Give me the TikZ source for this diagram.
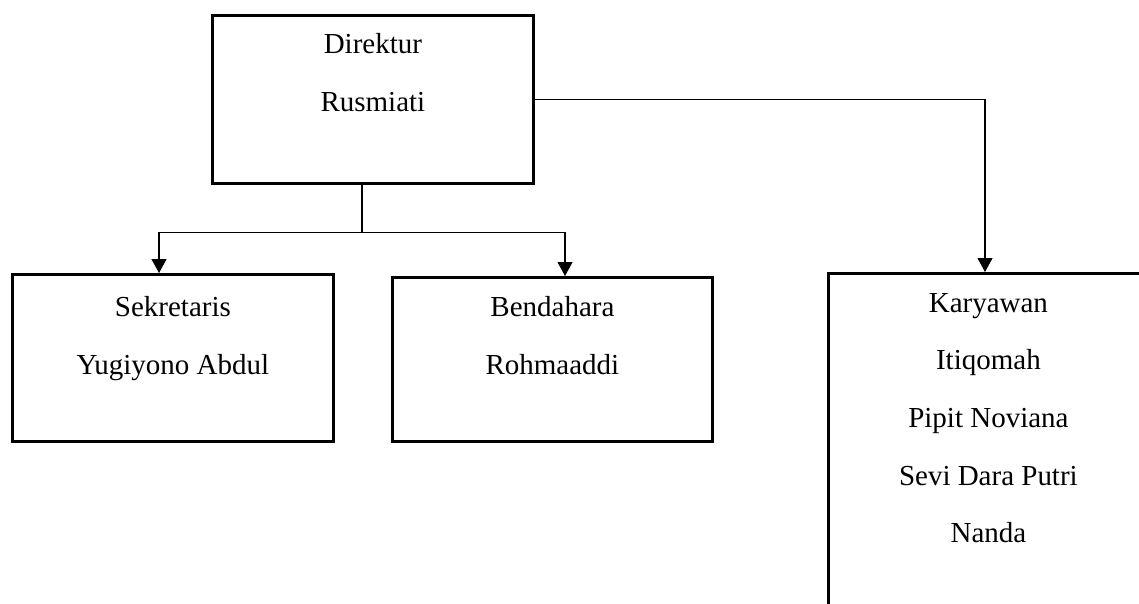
\documentclass[tikz,border=0pt]{standalone}
\usepackage{fontspec}
\setmainfont{Liberation Serif}
\usepackage{tikz}
\usetikzlibrary{arrows.meta,calc}

\begin{document}
\begin{tikzpicture}[x=0.02cm, y=-0.02cm, >={Triangle[length=0.28cm,width=0.3cm]},
    box/.style={draw, line width=1.6pt, rectangle, anchor=north west, inner sep=0pt},
    persontxt/.style={anchor=north, inner sep=0pt, align=center, font=\fontsize{16.5}{32.8}\selectfont},
    link/.style={line width=0.6pt}]
    \useasboundingbox (0,0) rectangle (1139,603);
    % Boxes
    \node[box, minimum width=321*0.02cm, minimum height=168*0.02cm] (dirbox) at (211,14) {};
    \node[box, minimum width=321*0.02cm, minimum height=167*0.02cm] (sekbox) at (11,273) {};
    \node[box, minimum width=320*0.02cm, minimum height=164*0.02cm] (benbox) at (391,276) {};
    \node[box, minimum width=320*0.02cm, minimum height=380*0.02cm] (karbox) at (827,272) {};
    % Names
    \node[persontxt] (dirtxt) at ($(dirbox.north)+(0,19)$) {Direktur\\Rusmiati};
    \node[persontxt] (sektxt) at ($(sekbox.north)+(0,23)$) {Sekretaris\\Yugiyono Abdul};
    \node[persontxt] (bentxt) at ($(benbox.north)+(0,20)$) {Bendahara\\Rohmaaddi};
    \node[persontxt] (kartxt) at ($(karbox.north)+(0,21)$) {Karyawan\\Itiqomah\\Pipit Noviana\\Sevi Dara Putri\\Nanda};
    % Connectors
    \coordinate (split) at ($(dirbox.south west)+(151,48)$);
    \draw[link] (split |- dirbox.south) -- (split);
    \draw[link, ->] (split) -| ($(sekbox.north west)+(148,0)$);
    \draw[link, ->] (split) -| ($(benbox.north west)+(174,0)$);
    \draw[link, ->] (dirbox.east) -| ($(karbox.north west)+(158,0)$);
\end{tikzpicture}
\end{document}
